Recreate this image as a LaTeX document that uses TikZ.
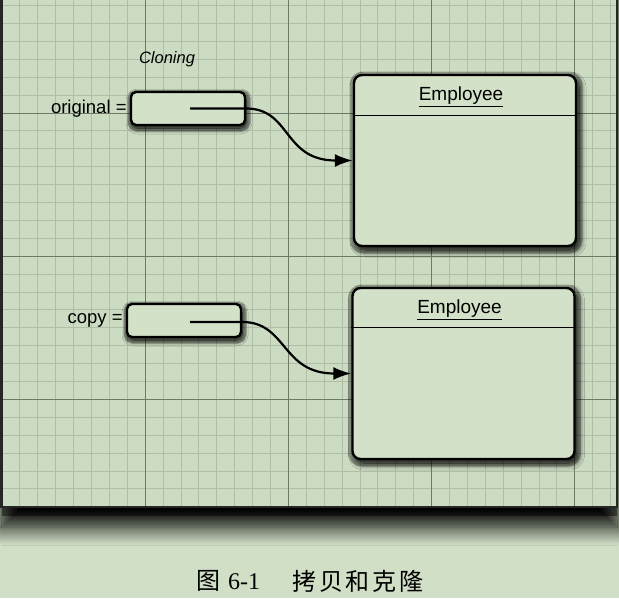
\documentclass[tikz,border=0pt]{standalone}
\usepackage{fontspec}
\setmainfont{Liberation Serif}
\setsansfont{Liberation Sans}
\newfontfamily\cjk[LetterSpace=12]{Noto Sans CJK SC}
\usetikzlibrary{arrows.meta,positioning,shadows.blur}
\definecolor{paper}{HTML}{D1DFC6}
\definecolor{panel}{HTML}{CCDCC2}
\definecolor{minorline}{HTML}{B0BDA7}
\definecolor{majorline}{HTML}{6E7A67}
\definecolor{boxfill}{HTML}{D3E1C9}
\tikzset{
  halo/.style={preaction={draw=black, draw opacity=0.28, line width=#1,
    transform canvas={xshift=1pt, yshift=-2pt}}},
  refbox/.style={draw=black, line width=2.4pt, rounded corners=5pt, fill=boxfill,
    minimum width=114pt, minimum height=33pt, inner sep=0pt,
    blur shadow={shadow xshift=1pt, shadow yshift=-3pt, shadow blur radius=6pt,
      shadow blur steps=10, shadow opacity=100},
    halo=9pt},
  objbox/.style={draw=black, line width=2.4pt, rounded corners=8pt, fill=boxfill,
    minimum width=222pt, minimum height=171pt, inner sep=0pt,
    blur shadow={shadow xshift=3pt, shadow yshift=-4pt, shadow blur radius=7pt,
      shadow blur steps=10, shadow opacity=100},
    halo=11pt},
  reflabel/.style={font=\sffamily\fontsize{18.5}{21}\selectfont, inner sep=0pt},
  classname/.style={font=\sffamily\fontsize{19}{22}\selectfont, inner sep=0pt},
  refline/.style={line width=2.2pt, -{Latex[length=18pt,width=13pt]}},
  caption/.style={font=\fontsize{24}{28}\selectfont, inner sep=0pt}
}
\begin{document}
\begin{tikzpicture}[x=1pt,y=-1pt]
  \useasboundingbox (0,0) rectangle (619,598);
  \fill[paper] (0,0) rectangle (619,598);
  \begin{scope}
    \clip (0,0) rectangle (619,598);
    \fill[panel, blur shadow={shadow xshift=0pt, shadow yshift=-20pt, shadow blur radius=18pt,
      shadow blur steps=14, shadow opacity=100}]
      (2,-40) rectangle (617,507);
    \fill[black, opacity=0.45] (2,507) rectangle (617,516);
  \end{scope}
  \begin{scope}
    \clip (2,0) rectangle (617,507);
    \foreach \i in {0,...,35}
      \draw[minorline, line width=0.9pt] ({2+\i*17.9},0) -- ({2+\i*17.9},507);
    \foreach \j in {0,...,30}
      \draw[minorline, line width=0.9pt] (2,{-12.3+\j*17.9}) -- (617,{-12.3+\j*17.9});
    \foreach \x in {2,145.2,288.4,431.6,574.8}
      \draw[majorline, line width=1pt] (\x,0) -- (\x,507);
    \foreach \y in {-30.2,113,256.2,399.4}
      \draw[majorline, line width=1pt] (2,\y) -- (617,\y);
  \end{scope}
  \draw[black!85, line width=2.5pt] (1.5,0) -- (1.5,507) -- (617,507) -- (617,0);

  \node[refbox] (origref) at (188,108.5) {};
  \node[reflabel, left=3pt of origref] (origlabel) {original =};
  \node[reflabel, font=\sffamily\itshape\fontsize{16.5}{19}\selectfont] (cloning) at (167,59) {Cloning};
  \node[objbox] (origobj) at (465,160.5) {};
  \node[classname] (origname) at ([xshift=-4pt,yshift=-23pt]origobj.north) {\underline{Employee}};
  \draw[line width=1.3pt] ([yshift=-42pt]origobj.north west) -- ([yshift=-42pt]origobj.north east);

  \node[refbox] (copyref) at (184,320.5) {};
  \node[reflabel, left=3pt of copyref] (copylabel) {copy =};
  \node[objbox] (copyobj) at (463.5,373.5) {};
  \node[classname] (copyname) at ([xshift=-4pt,yshift=-23pt]copyobj.north) {\underline{Employee}};
  \draw[line width=1.3pt] ([yshift=-41pt]copyobj.north west) -- ([yshift=-41pt]copyobj.north east);

  \draw[refline] ([xshift=2pt]origref.center) -- (origref.east) .. controls +(45,0) and +(-70,0) .. (origobj.west);
  \draw[refline] ([xshift=6pt,yshift=-1.5pt]copyref.center) -- ([yshift=-1.5pt]copyref.east) .. controls +(45,0) and +(-70,0) .. (copyobj.west);

  \node[caption, anchor=west] (fignum) at (196,581) {{\cjk 图}\hspace{8pt}6-1};
  \node[caption, anchor=west] (figtitle) at (292,581) {\cjk 拷贝和克隆};
\end{tikzpicture}
\end{document}
